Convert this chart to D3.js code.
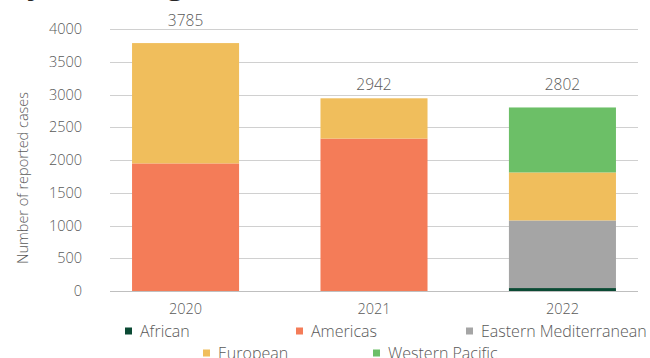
<!DOCTYPE html>
<html>
<head>
<meta charset="utf-8">
<script src="https://cdn.jsdelivr.net/npm/d3@7"></script>
<style>
  html, body { margin: 0; padding: 0; background: #fff; }
  svg { display: block; font-family: "Open Sans", "Noto Sans", sans-serif; }
</style>
</head>
<body>
<svg id="chart" width="650" height="358"></svg>
<script>
// Reported cases per year, stacked by WHO region
const years = ["2020", "2021", "2022"];
const regions = ["African", "Americas", "Eastern Mediterranean", "European", "Western Pacific"];
const african = [0, 0, 45];
const americas = [1948, 2327, 0];
const easternMediterranean = [0, 0, 1032];
const european = [1837, 615, 733];
const westernPacific = [0, 0, 992];
const totals = [3785, 2942, 2802];
const yTicks = [0, 500, 1000, 1500, 2000, 2500, 3000, 3500, 4000];
const colors = ["#0b4a34", "#f47c58", "#a5a5a5", "#f0be5c", "#6cbf67"];

const seriesValues = [african, americas, easternMediterranean, european, westernPacific];
const rows = years.map((y, i) => {
  const r = { year: y };
  regions.forEach((reg, k) => { r[reg] = seriesValues[k][i]; });
  return r;
});

const svg = d3.select("#chart");
const margin = { left: 110, right: 12, top: 29, bottom: 67 };
const W = 650, H = 358;
const plotBottom = H - margin.bottom;

const x = d3.scaleBand()
  .domain(years)
  .range([margin.left, W - margin.right])
  .paddingInner(0.432)
  .paddingOuter(0.117);

const y = d3.scaleLinear()
  .domain([0, 4000])
  .range([plotBottom, margin.top]);

// Title line (mostly above the visible area)
svg.append("text")
  .attr("x", 8)
  .attr("y", -6)
  .attr("font-size", 30)
  .attr("font-weight", 700)
  .attr("fill", "#262626")
  .text("by WHO region");

// Horizontal gridlines
svg.append("g")
  .selectAll("line")
  .data(yTicks.filter(t => t > 0))
  .join("line")
  .attr("x1", margin.left)
  .attr("x2", W - margin.right)
  .attr("y1", d => Math.round(y(d)) + 0.5)
  .attr("y2", d => Math.round(y(d)) + 0.5)
  .attr("stroke", "#d0d0d0")
  .attr("stroke-width", 1.2);

// Y axis tick labels
const yAxis = d3.axisLeft(y).tickValues(yTicks).tickFormat(d3.format("d")).tickSize(0).tickPadding(0);
const gy = svg.append("g")
  .attr("transform", `translate(${margin.left - 28},0)`)
  .call(yAxis);
gy.select(".domain").remove();
gy.selectAll("text")
  .attr("font-size", 14.5)
  .attr("font-weight", 300)
  .attr("fill", "#595959")
  .attr("font-family", "'Open Sans', sans-serif");

// Y axis title
svg.append("text")
  .attr("transform", `translate(28,${(y(0) + y(4000)) / 2 + 18}) rotate(-90)`)
  .attr("text-anchor", "middle")
  .attr("font-size", 14.5)
  .attr("font-weight", 300)
  .attr("fill", "#595959")
  .text("Number of reported cases");

// Stacked bars
const stack = d3.stack().keys(regions);
const layers = stack(rows);
svg.append("g")
  .selectAll("g")
  .data(layers)
  .join("g")
  .attr("fill", (d, i) => colors[i])
  .selectAll("rect")
  .data(d => d)
  .join("rect")
  .attr("x", d => x(d.data.year))
  .attr("width", x.bandwidth())
  .attr("y", d => y(d[1]))
  .attr("height", d => y(d[0]) - y(d[1]));

// Baseline axis
const xAxis = d3.axisBottom(x).tickSize(0).tickPadding(12);
const gx = svg.append("g")
  .attr("transform", `translate(0,${Math.round(plotBottom) + 0.5})`)
  .call(xAxis);
gx.select(".domain")
  .attr("d", `M${margin.left},0H${W - margin.right}`)
  .attr("stroke", "#bfbfbf")
  .attr("stroke-width", 1.2);
gx.selectAll("text")
  .attr("font-size", 14.5)
  .attr("font-weight", 300)
  .attr("fill", "#595959")
  .attr("font-family", "'Open Sans', sans-serif");

// Total labels above each bar (gap to the bar top varies per label)
const labelGap = [17, 8, 17];
svg.append("g")
  .selectAll("text")
  .data(years)
  .join("text")
  .attr("x", d => x(d) + x.bandwidth() / 2)
  .attr("y", (d, i) => y(totals[i]) - labelGap[i])
  .attr("text-anchor", "middle")
  .attr("font-size", 15.5)
  .attr("font-weight", 300)
  .attr("fill", "#595959")
  .text((d, i) => totals[i]);

// Legend
const legendPos = [
  { x: 125, y: 331 }, { x: 296, y: 331 }, { x: 466, y: 331 },
  { x: 203, y: 353 }, { x: 373, y: 353 }
];
const lg = svg.append("g")
  .selectAll("g")
  .data(regions)
  .join("g")
  .attr("transform", (d, i) => `translate(${legendPos[i].x},${legendPos[i].y})`);
lg.append("rect")
  .attr("x", 0).attr("y", -3.5)
  .attr("width", 7).attr("height", 7)
  .attr("fill", (d, i) => colors[i]);
lg.append("text")
  .attr("x", 15)
  .attr("y", 6)
  .attr("font-size", 16)
  .attr("font-weight", 300)
  .attr("fill", "#595959")
  .text(d => d);
</script>
</body>
</html>
